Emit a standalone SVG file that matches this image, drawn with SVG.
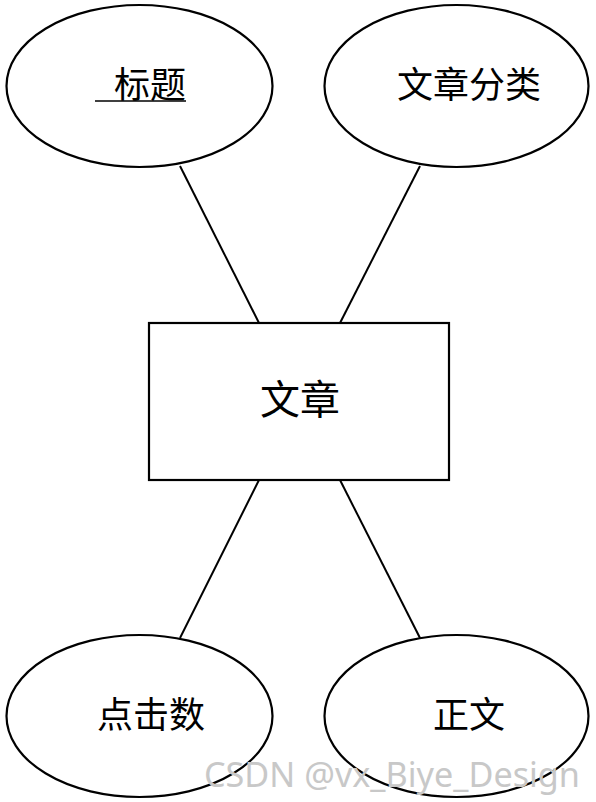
<svg xmlns="http://www.w3.org/2000/svg" width="596" height="802" viewBox="0 0 596 802">
<style>
.shape{fill:#fff;stroke:#000;stroke-width:2.2}
.conn line{stroke:#000;stroke-width:2}
.lbl{font-family:"Liberation Serif","Noto Sans CJK SC",serif;font-size:36px;fill:#000;text-anchor:middle;dominant-baseline:central}
.wm{font-family:"Noto Sans","Liberation Sans",sans-serif;font-size:34px;fill:#c8c8c8}
</style>
<rect width="596" height="802" fill="#fff"/>
<g id="connectors" class="conn">
<line x1="180" y1="166" x2="259" y2="323"/>
<line x1="420" y1="166" x2="340" y2="323"/>
<line x1="259" y1="480" x2="180" y2="638"/>
<line x1="340" y1="480" x2="420" y2="638"/>
</g>
<g id="node-title">
<ellipse class="shape" cx="139.5" cy="86" rx="133" ry="81"/>
<text class="lbl" x="150" y="86">标题</text>
<line x1="95" y1="101" x2="186" y2="101" stroke="#000" stroke-width="1.5"/>
</g>
<g id="node-category">
<ellipse class="shape" cx="456.5" cy="86" rx="132" ry="81"/>
<text class="lbl" x="469" y="86">文章分类</text>
</g>
<g id="node-article">
<rect class="shape" x="149" y="323" width="300" height="157"/>
<text class="lbl" x="300" y="400" style="font-size:40px">文章</text>
</g>
<g id="node-clicks">
<ellipse class="shape" cx="139.5" cy="716" rx="133" ry="81"/>
<text class="lbl" x="151" y="716">点击数</text>
</g>
<g id="node-body">
<ellipse class="shape" cx="456.5" cy="716" rx="132" ry="81"/>
<text class="lbl" x="469" y="716">正文</text>
</g>
<text class="wm" x="204" y="787" textLength="376" lengthAdjust="spacingAndGlyphs">CSDN @vx_Biye_Design</text>
</svg>
